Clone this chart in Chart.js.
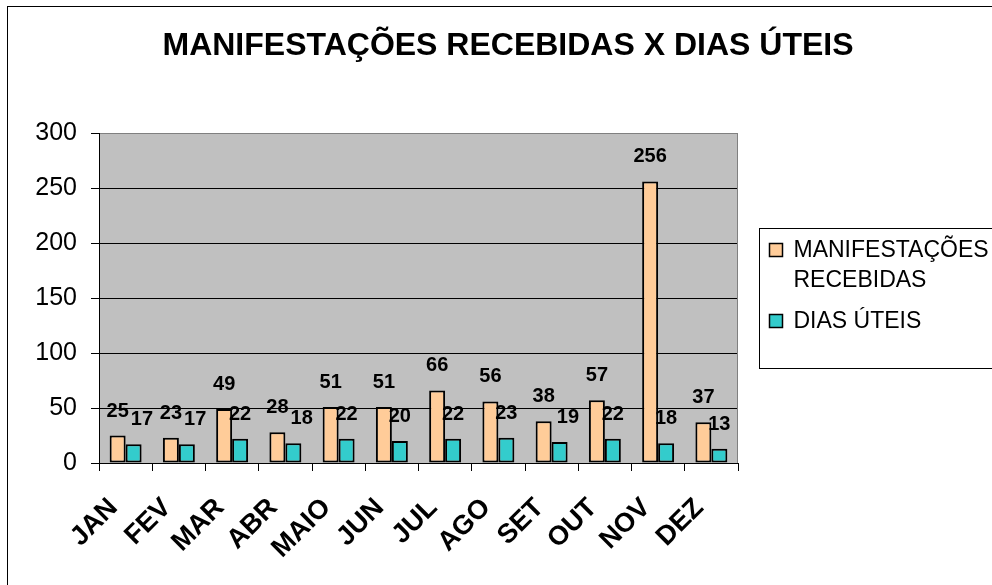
<!DOCTYPE html>
<html>
<head>
<meta charset="utf-8">
<script src="https://cdn.jsdelivr.net/npm/chart.js@4.4.1/dist/chart.umd.min.js"></script>
<style>
html,body{margin:0;padding:0;background:#fff;}
#wrap{width:992px;height:585px;position:relative;}
canvas{display:block;}
</style>
</head>
<body>
<div id="wrap"><canvas id="c" width="992" height="585"></canvas></div>
<script>
// ---- data ----
const months = ['JAN','FEV','MAR','ABR','MAIO','JUN','JUL','AGO','SET','OUT','NOV','DEZ'];
const manifestacoes = [25, 23, 49, 28, 51, 51, 66, 56, 38, 57, 256, 37];
const diasUteis = [17, 17, 22, 18, 22, 20, 22, 23, 19, 22, 18, 13];
const seriesNames = ['MANIFESTAÇÕES RECEBIDAS', 'DIAS ÚTEIS'];
const yTicks = [0, 50, 100, 150, 200, 250, 300];
const chartTitle = 'MANIFESTAÇÕES RECEBIDAS X DIAS ÚTEIS';

// ---- style ----
const FONT = "'Liberation Sans', Arial, Helvetica, sans-serif";
const COLORS = ['#FFCC99', '#33CCCC'];
const PLOT_BG = '#C0C0C0';

Chart.defaults.color = '#000';
Chart.defaults.font.family = FONT;

// background, outer frame and plot area fill
const framePlugin = {
  id: 'frame',
  beforeDraw(chart) {
    const {ctx, chartArea: a, width, height} = chart;
    ctx.save();
    ctx.fillStyle = '#fff';
    ctx.fillRect(0, 0, width, height);
    ctx.strokeStyle = '#000';
    ctx.lineWidth = 1;
    ctx.strokeRect(7.5, 6.5, width + 20, height + 20);
    ctx.fillStyle = PLOT_BG;
    ctx.fillRect(a.left, a.top, a.right - a.left, a.bottom - a.top);
    ctx.restore();
  },
  beforeDatasetsDraw(chart) {
    const {ctx, chartArea: a} = chart;
    ctx.save();
    ctx.strokeStyle = '#808080';
    ctx.lineWidth = 1;
    ctx.beginPath();
    ctx.moveTo(Math.round(a.right) - 0.5, a.top);
    ctx.lineTo(Math.round(a.right) - 0.5, a.bottom);
    ctx.stroke();
    ctx.restore();
  }
};

// value labels above bars, with simple collision avoidance
const valueLabelPlugin = {
  id: 'valueLabels',
  afterDatasetsDraw(chart) {
    const ctx = chart.ctx;
    ctx.save();
    ctx.font = 'bold 20px ' + FONT;
    ctx.fillStyle = '#000';
    ctx.textAlign = 'left';
    ctx.textBaseline = 'alphabetic';
    const capH = 14.5, pad = 5, gap = 2, lift = 19;
    const metas = chart.data.datasets.map((d, i) => chart.getDatasetMeta(i));
    chart.data.labels.forEach((_, i) => {
      const placed = [];
      metas.forEach((meta, d) => {
        const el = meta.data[i];
        const txt = String(chart.data.datasets[d].data[i]);
        const w = ctx.measureText(txt).width;
        let x = el.x - w / 2;
        const y = el.y - lift;
        placed.forEach(b => {
          const vOv = (y - capH - pad) < (b.y + pad) && (b.y - capH - pad) < (y + pad);
          const hOv = x < b.x + b.w && b.x < x + w;
          if (vOv && hOv) x = b.x + b.w + gap;
        });
        placed.push({x, y, w});
        ctx.fillText(txt, x, y);
      });
    });
    ctx.restore();
  }
};

// legend as a layout box on the right
const legendBoxPlugin = {
  id: 'legendBox',
  beforeInit(chart) {
    const box = {
      position: 'right',
      weight: 0,
      fullSize: false,
      options: {},
      isHorizontal() { return false; },
      update(maxW, maxH) { this.width = 254; this.height = maxH; },
      draw() {
        const ctx = chart.ctx;
        const a = chart.chartArea;
        const fx = Math.round(this.left) + 21 + 0.5;
        const fh = 140;
        const fy = Math.round((a.top + a.bottom) / 2 - fh / 2) + 0.5;
        ctx.save();
        ctx.fillStyle = '#fff';
        ctx.fillRect(fx, fy, 300, fh);
        ctx.strokeStyle = '#000';
        ctx.lineWidth = 1;
        ctx.strokeRect(fx, fy, 300, fh);
        ctx.font = '23px ' + FONT;
        ctx.textAlign = 'left';
        ctx.textBaseline = 'alphabetic';
        const tx = fx + 34, maxW = 200, lineH = 30, itemGap = 11;
        let base = fy + 28;
        chart.data.datasets.forEach((ds, i) => {
          const words = ds.label.split(' ');
          const lines = [];
          let cur = '';
          words.forEach(wd => {
            const t = cur ? cur + ' ' + wd : wd;
            if (cur && ctx.measureText(t).width > maxW) { lines.push(cur); cur = wd; }
            else cur = t;
          });
          if (cur) lines.push(cur);
          ctx.fillStyle = ds.backgroundColor;
          ctx.fillRect(fx + 10, base - 13, 13, 13);
          ctx.strokeStyle = '#000';
          ctx.lineWidth = 1.5;
          ctx.strokeRect(fx + 10, base - 13, 13, 13);
          ctx.fillStyle = '#000';
          lines.forEach((ln, k) => ctx.fillText(ln, tx, base + k * lineH));
          base += lines.length * lineH + itemGap;
        });
        ctx.restore();
      }
    };
    Chart.layouts.addBox(chart, box);
  }
};

new Chart(document.getElementById('c'), {
  type: 'bar',
  data: {
    labels: months,
    datasets: [
      {label: seriesNames[0], data: manifestacoes, backgroundColor: COLORS[0], borderColor: '#000', borderWidth: 2, borderSkipped: false},
      {label: seriesNames[1], data: diasUteis, backgroundColor: COLORS[1], borderColor: '#000', borderWidth: 2, borderSkipped: false}
    ]
  },
  options: {
    responsive: false,
    animation: false,
    devicePixelRatio: 1,
    layout: {padding: {left: 24, right: 0, top: 0, bottom: 0}},
    datasets: {bar: {categoryPercentage: 0.6, barPercentage: 1.0}},
    plugins: {
      legend: {display: false},
      tooltip: {enabled: false},
      title: {
        display: true,
        text: chartTitle,
        color: '#000',
        font: {size: 32, weight: 'bold', family: FONT},
        padding: {top: 27, bottom: 67.6}
      }
    },
    scales: {
      x: {
        grid: {display: true, drawOnChartArea: false, drawTicks: true, tickLength: 8, color: '#000', offset: true},
        border: {display: true, color: '#000', width: 1},
        ticks: {
          autoSkip: false, minRotation: 45, maxRotation: 45,
          font: {size: 27, weight: 'bold', family: FONT}, color: '#000',
          padding: 21, labelOffset: -12
        },
        afterFit(scale) { scale.height = 122; }
      },
      y: {
        min: yTicks[0],
        max: yTicks[yTicks.length - 1],
        afterBuildTicks(scale) { scale.ticks = yTicks.map(v => ({value: v})); },
        grid: {
          drawTicks: true, tickLength: 8, tickColor: '#000', lineWidth: 1,
          color: (c) => (c.tick && c.tick.value === yTicks[yTicks.length - 1]) ? '#808080' : '#000'
        },
        border: {display: true, color: '#000', width: 1},
        ticks: {font: {size: 25, family: FONT}, color: '#000', padding: 14},
        afterFit(scale) { scale.width = 75; }
      }
    }
  },
  plugins: [framePlugin, valueLabelPlugin, legendBoxPlugin]
});
</script>
</body>
</html>
